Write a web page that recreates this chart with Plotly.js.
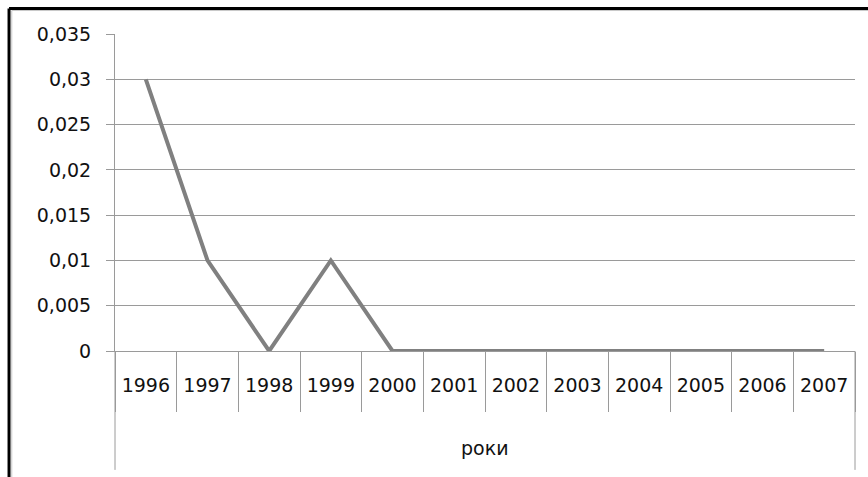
<!DOCTYPE html>
<html>
<head>
<meta charset="utf-8">
<script src="https://cdn.plot.ly/plotly-3.0.1.min.js"></script>
<style>html,body{margin:0;padding:0;background:#fff;}#chart{width:868px;height:477px;}</style>
</head>
<body>
<div id="chart"></div>
<script>
var years = ['1996','1997','1998','1999','2000','2001','2002','2003','2004','2005','2006','2007'];
var values = [0.03, 0.01, 0, 0.01, 0, 0, 0, 0, 0, 0, 0, 0];
var yTicks = [0, 0.005, 0.01, 0.015, 0.02, 0.025, 0.03, 0.035];
var yTickLabels = ['0', '0,005', '0,01', '0,015', '0,02', '0,025', '0,03', '0,035'];
var axisTitle = 'роки';

var fontFam = 'DejaVu Sans, Verdana, sans-serif';
var trace = {
  x: years, y: values, type: 'scatter', mode: 'lines',
  line: {color: '#808080', width: 4},
  hoverinfo: 'skip', cliponaxis: false
};
var layout = {
  width: 868, height: 477,
  margin: {l: 115, r: 13, t: 34, b: 126},
  paper_bgcolor: '#fff', plot_bgcolor: '#fff',
  showlegend: false,
  font: {family: fontFam, size: 19, color: '#000'},
  xaxis: {
    type: 'category', range: [-0.5, years.length - 0.5], autorange: false,
    tickson: 'boundaries', ticks: 'outside', ticklen: 60,
    tickcolor: '#9a9a9a', tickwidth: 1, showgrid: false,
    showline: true, linecolor: '#9a9a9a', linewidth: 1,
    ticklabelstandoff: 17, zeroline: false,
    tickfont: {family: fontFam, size: 19, color: '#111'}
  },
  yaxis: {
    range: [0, 0.035], autorange: false, tickmode: 'array', tickvals: yTicks, ticktext: yTickLabels,
    ticks: 'outside', ticklen: 8, tickcolor: '#9a9a9a',
    showgrid: true, gridcolor: '#9a9a9a', gridwidth: 1,
    showline: true, linecolor: '#9a9a9a', linewidth: 1, zeroline: false,
    ticklabelstandoff: 11,
    tickfont: {family: fontFam, size: 19, color: '#111'}
  },
  annotations: [{
    text: axisTitle, xref: 'paper', yref: 'paper', x: 0.5, y: -0.306,
    xanchor: 'center', yanchor: 'middle', showarrow: false,
    font: {family: fontFam, size: 19, color: '#111'}
  }],
  shapes: [
    {type: 'line', xref: 'paper', yref: 'paper', x0: 0, x1: 0, y0: 0, y1: -0.375, line: {color: '#9a9a9a', width: 1}},
    {type: 'line', xref: 'paper', yref: 'paper', x0: 1, x1: 1, y0: 0, y1: -0.375, line: {color: '#9a9a9a', width: 1}},
    {type: 'line', xref: 'paper', yref: 'paper', x0: -0.1432, x1: 1.2, y0: 1.0804, y1: 1.0804, line: {color: '#000', width: 3}},
    {type: 'line', xref: 'paper', yref: 'paper', x0: -0.1432, x1: -0.1432, y0: 1.0804, y1: -0.5, line: {color: '#000', width: 3}},
    {type: 'line', xref: 'paper', yref: 'paper', x0: -0.1395, x1: 1.2, y0: 1.0740, y1: 1.0740, line: {color: '#c8c8c8', width: 1}},
    {type: 'line', xref: 'paper', yref: 'paper', x0: -0.1395, x1: -0.1395, y0: 1.0740, y1: -0.5, line: {color: '#c8c8c8', width: 1}}
  ]
};
Plotly.newPlot('chart', [trace], layout, {displayModeBar: false, staticPlot: true});
</script>
</body>
</html>
